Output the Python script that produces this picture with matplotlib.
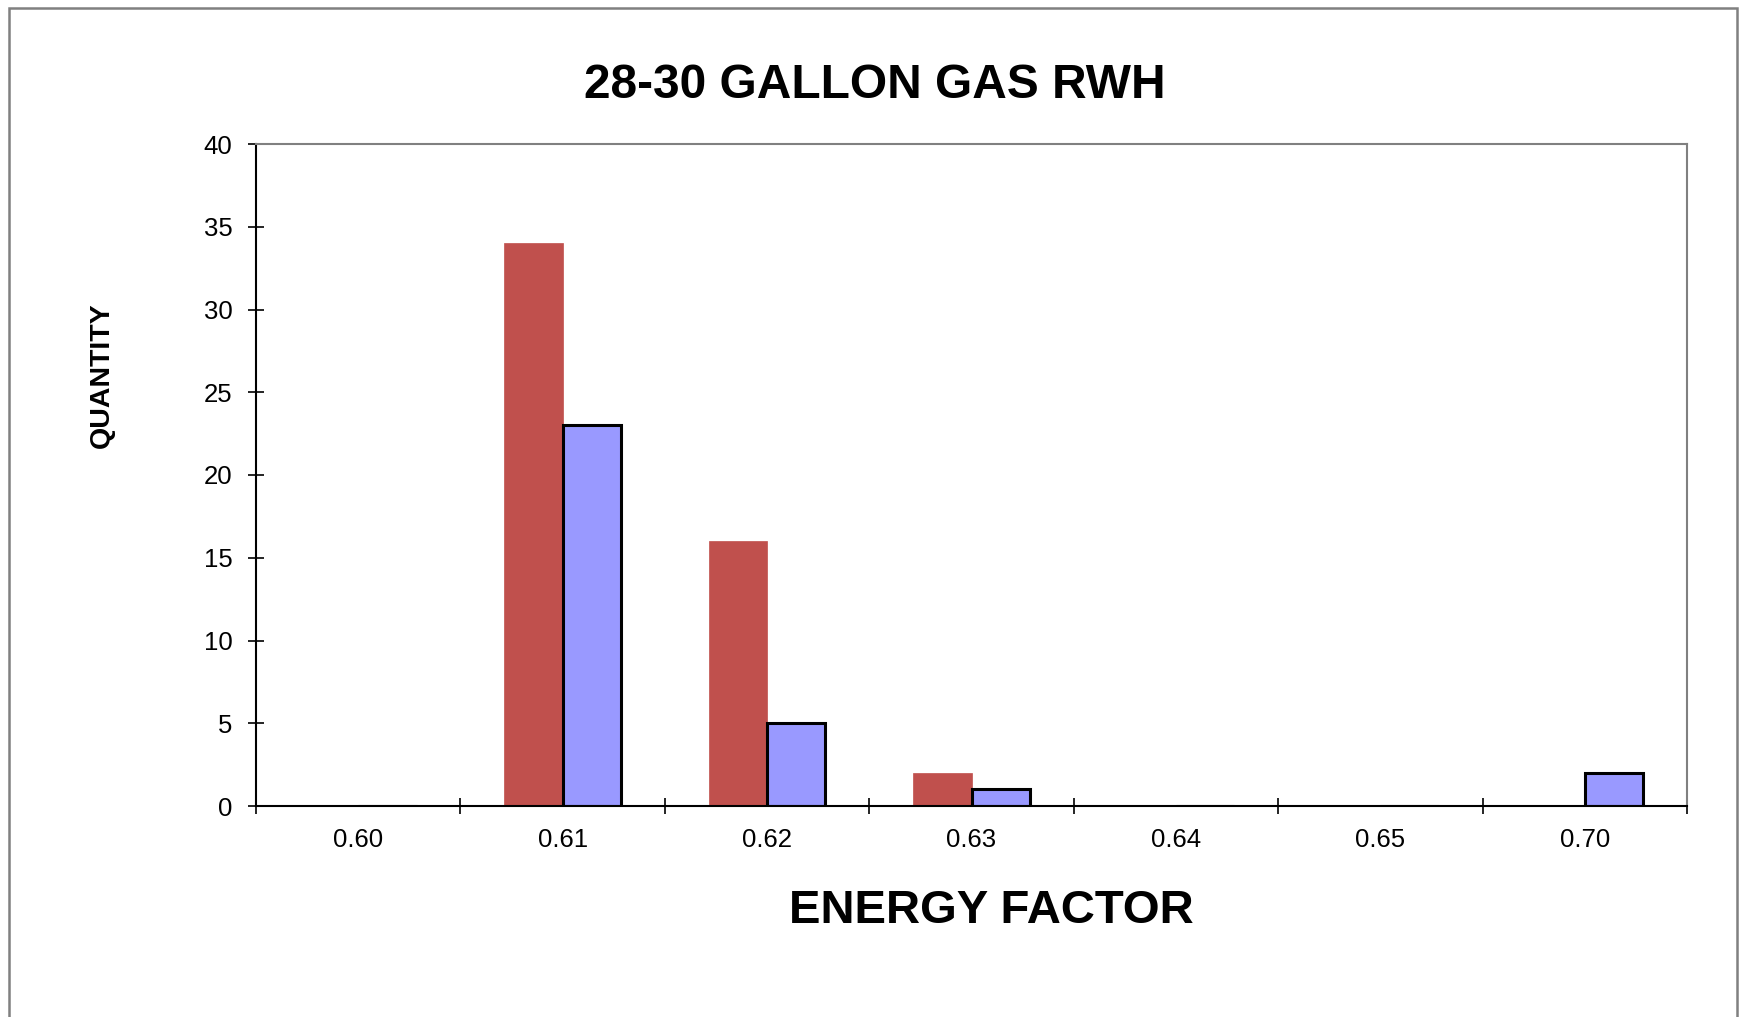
import matplotlib
matplotlib.use("Agg")
import matplotlib.pyplot as plt
from matplotlib.patches import Rectangle
import numpy as np

plt.rcParams["font.family"] = ["Liberation Sans", "DejaVu Sans"]

# data
categories = ["0.60", "0.61", "0.62", "0.63", "0.64", "0.65", "0.70"]
series_red = [0, 34, 16, 2, 0, 0, 0]
series_blue = [0, 23, 5, 1, 0, 0, 2]
y_ticks = [0, 5, 10, 15, 20, 25, 30, 35, 40]

RED = "#C0504D"
BLUE = "#9999FF"
GRAY = "#808080"

fig = plt.figure(figsize=(17.41, 10.17), dpi=100)
ax = fig.add_axes([256 / 1741, 1 - 806 / 1017, (1687 - 256) / 1741, (806 - 144) / 1017])

pos = np.arange(len(categories))
w = 0.2857
ax.bar(pos - w / 2, series_red, width=w, color=RED, edgecolor=RED, linewidth=0.5)
ax.bar(pos + w / 2, series_blue, width=w, color=BLUE, edgecolor="black", linewidth=2.2)

ax.set_xlim(-0.5, len(categories) - 0.5)
ax.set_ylim(0, 40)
ax.set_yticks(y_ticks)

# ticks sit on category borders, labels at the centres
ax.set_xticks(np.arange(len(categories) + 1) - 0.5)
ax.set_xticklabels([])
ax.set_xticks(pos, minor=True)
ax.set_xticklabels(categories, minor=True)

ax.tick_params(axis="both", which="major", direction="inout", length=11,
               width=1.2, color="black", labelsize=18.5, pad=11.5)
ax.tick_params(axis="x", which="minor", length=0, labelsize=18.5, pad=15.5)

for s in ["left", "bottom"]:
    ax.spines[s].set_color("black")
    ax.spines[s].set_linewidth(1.5)
for s in ["top", "right"]:
    ax.spines[s].set_color(GRAY)
    ax.spines[s].set_linewidth(1.5)

fig.text(875 / 1741, 1 - 86 / 1017, "28-30 GALLON GAS RWH", ha="center", va="center",
         fontsize=34.5, fontweight="bold")
fig.text(991 / 1741, 1 - 911 / 1017, "ENERGY FACTOR", ha="center", va="center",
         fontsize=34, fontweight="bold")
fig.text(102 / 1741, 1 - 375 / 1017, "QUANTITY", ha="center", va="center",
         rotation=90, fontsize=20.5, fontweight="bold")

# outer chart border (bottom edge falls off the picture)
fig.patches.append(Rectangle((8.5 / 1741, -0.01), (1737 - 8.5) / 1741, 1.01 - 7.5 / 1017,
                             transform=fig.transFigure, fill=False,
                             edgecolor=GRAY, linewidth=1.8))

fig.savefig("out.png", dpi=100)
